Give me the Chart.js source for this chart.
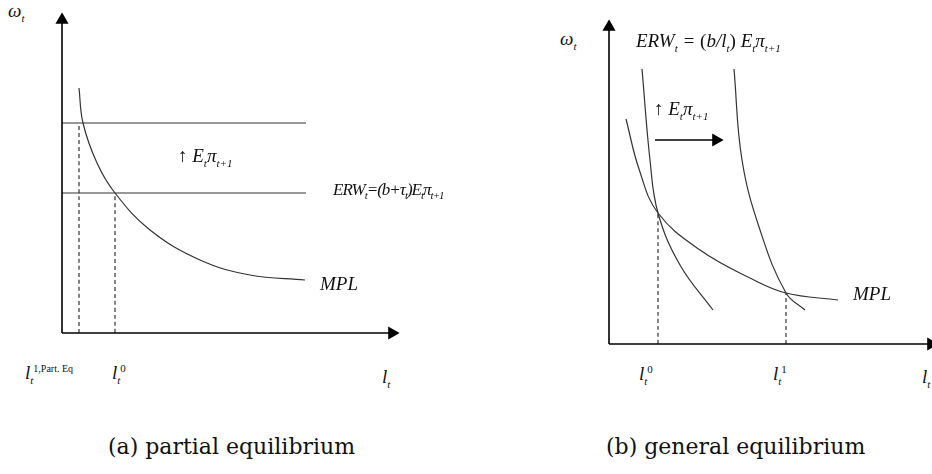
<!DOCTYPE html>
<html>
<head>
<meta charset="utf-8">
<script src="https://cdn.jsdelivr.net/npm/chart.js@4.4.0/dist/chart.umd.min.js"></script>
<style>
  body { margin:0; background:#fff; width:932px; height:474px; position:relative; overflow:hidden; }
  canvas { position:absolute; }
  .t { position:absolute; font-family:"Liberation Serif", serif; font-style:italic; font-size:19px; color:#111; white-space:nowrap; }
  .t sub, .t sup { font-size:11px; }
  .cap { position:absolute; font-family:"DejaVu Serif", serif; font-size:22px; color:#111; white-space:nowrap; }
</style>
</head>
<body>
<div style="position:absolute;left:54px;top:12px;width:348px;height:328px"><canvas id="a"></canvas></div>
<div style="position:absolute;left:601px;top:19px;width:338px;height:333px"><canvas id="b"></canvas></div>

<div class="t" style="left:8px;top:0px">ω<sub>t</sub></div>
<div class="t" style="left:178px;top:145px"><span style="font-style:normal">↑</span> E<sub>t</sub>π<sub>t+1</sub></div>
<div class="t" style="left:333px;top:180px;font-size:17px;letter-spacing:-1px">ERW<sub>t</sub>=(b+τ<sub>t</sub>)E<sub>t</sub>π<sub>t+1</sub></div>
<div class="t" style="left:320px;top:273px">MPL</div>
<div class="t" style="left:25px;top:362px">l<sub>t</sub><sup style="font-style:normal;font-size:10px">1,Part. Eq</sup></div>
<div class="t" style="left:112px;top:362px">l<sub>t</sub><sup style="font-style:normal">0</sup></div>
<div class="t" style="left:382px;top:366px">l<sub>t</sub></div>
<div class="cap" style="left:108px;top:434px">(a) partial equilibrium</div>

<div class="t" style="left:560px;top:28px">ω<sub>t</sub></div>
<div class="t" style="left:636px;top:30px">ERW<sub>t</sub> = <span style="font-style:normal">(</span>b/l<sub>t</sub><span style="font-style:normal">)</span> E<sub>t</sub>π<sub>t+1</sub></div>
<div class="t" style="left:654px;top:98px"><span style="font-style:normal">↑</span> E<sub>t</sub>π<sub>t+1</sub></div>
<div class="t" style="left:853px;top:283px">MPL</div>
<div class="t" style="left:639px;top:363px">l<sub>t</sub><sup style="font-style:normal">0</sup></div>
<div class="t" style="left:773px;top:363px">l<sub>t</sub><sup style="font-style:normal">1</sup></div>
<div class="t" style="left:922px;top:366px">l<sub>t</sub></div>
<div class="cap" style="left:606px;top:434px">(b) general equilibrium</div>

<script>
// panel (a): partial equilibrium
const mplA = [[17,245],[21,210],[35,170],[53,140],[88,103],[138,73],[188,58],[243,53]];
const erwLowA = 140, erwHighA = 210, erwEndA = 244;
const lPartA = 17, l0A = 53;

// panel (b): general equilibrium
const mplB = [[17,225],[30,175],[49,131],[91,94],[141,66],[177,51],[229,44]];
const erw0B = [[33,275],[41,184],[49,131],[71,79],[104,34]];
const erw1B = [[125,275],[133,184],[151,114],[177,51],[196,34]];
const l0B = 49, l1B = 177, mplL0B = 131, mplL1B = 51;
const shiftArrowB = [[46,204],[107,204]];

const pts = a => a.map(p => ({x:p[0], y:p[1]}));
const ink = '#333';

function curve(data, dash) {
  return { data: pts(data), showLine:true, borderColor:ink, borderWidth:1.2, pointRadius:0,
           tension:0.4, borderDash: dash || [], clip:false };
}
function arrow(data, rot) {
  return { data: pts(data), showLine:true, borderColor:'#000', backgroundColor:'#000', borderWidth:1.6,
           pointRadius:[0,6], pointStyle:'triangle', pointRotation:rot, clip:false };
}
function make(id, w, h, sets) {
  new Chart(document.getElementById(id), {
    type:'scatter',
    data:{ datasets: sets },
    options:{
      responsive:true, maintainAspectRatio:false, animation:false,
      layout:{ autoPadding:false, padding:{ left:8, top:8, right:w.pad, bottom:h.pad } },
      plugins:{ legend:{display:false}, tooltip:{enabled:false} },
      scales:{
        x:{ type:'linear', min:0, max:w.max, display:false },
        y:{ type:'linear', min:0, max:h.max, display:false }
      }
    }
  });
}

make('a', {max:330, pad:10}, {max:313, pad:7}, [
  arrow([[0,0],[330,0]], 90),
  arrow([[0,0],[0,313]], 0),
  curve(mplA),
  curve([[0,erwLowA],[erwEndA,erwLowA]]),
  curve([[0,erwHighA],[erwEndA,erwHighA]]),
  curve([[lPartA,0],[lPartA,erwHighA]], [4,3]),
  curve([[l0A,0],[l0A,erwLowA]], [4,3])
]);

make('b', {max:322, pad:8}, {max:317, pad:8}, [
  arrow([[0,0],[322,0]], 90),
  arrow([[0,0],[0,317]], 0),
  curve(mplB),
  curve(erw0B),
  curve(erw1B),
  curve([[l0B,0],[l0B,mplL0B]], [4,3]),
  curve([[l1B,0],[l1B,mplL1B]], [4,3]),
  arrow(shiftArrowB, 90)
]);
</script>
</body>
</html>
